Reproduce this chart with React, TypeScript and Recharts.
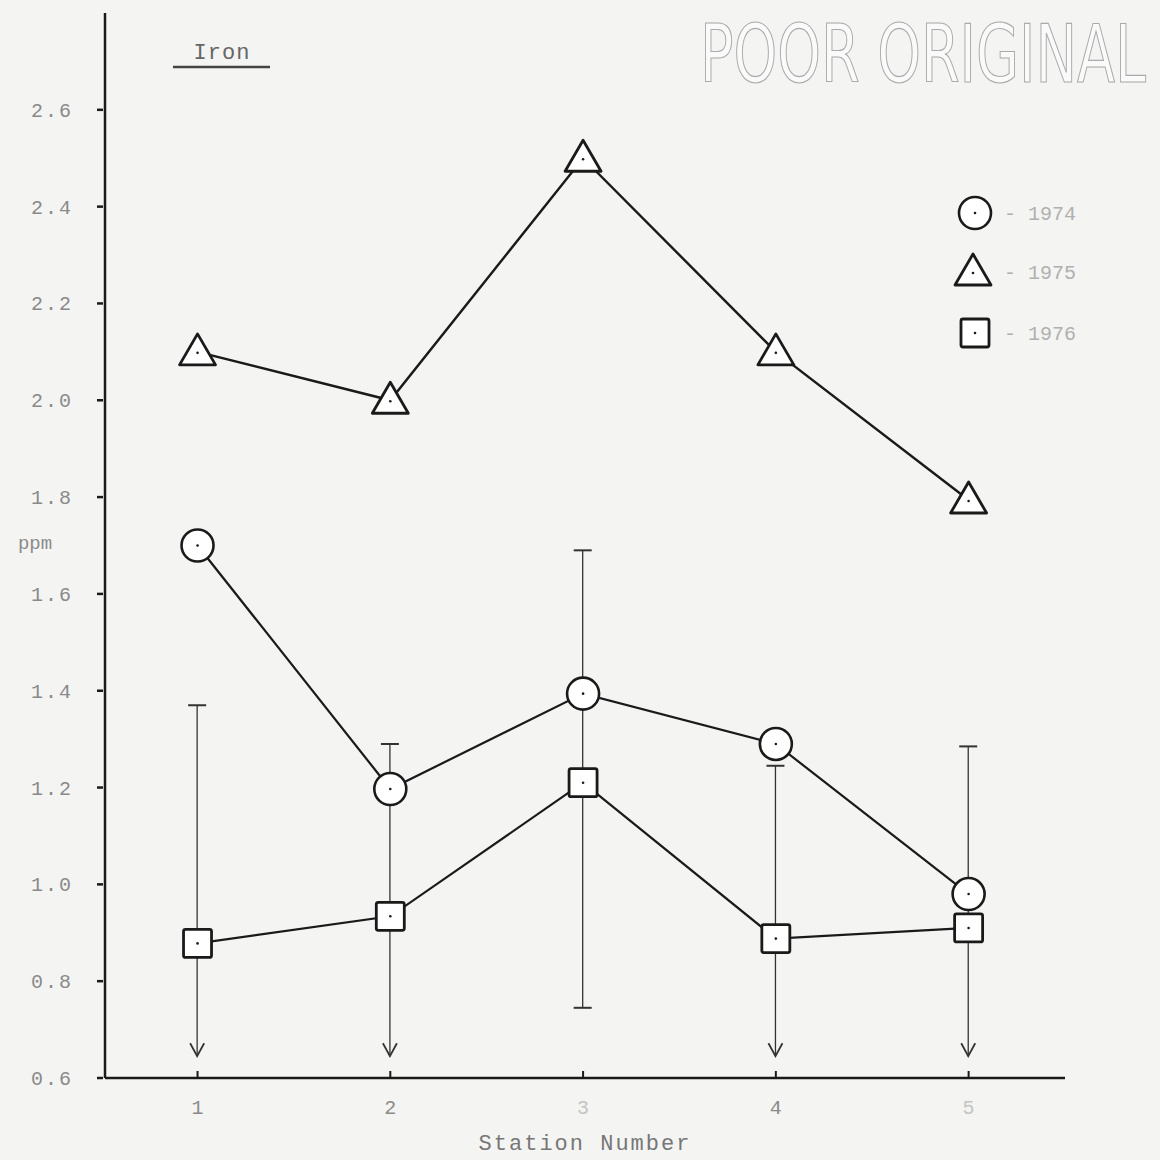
import React from 'react'
import { ComposedChart, Line, Bar, XAxis, YAxis } from 'recharts'

const stations = [1, 2, 3, 4, 5]
const iron1974 = [1.7, 1.197, 1.394, 1.29, 0.98]
const iron1975 = [2.1, 2.0, 2.5, 2.1, 1.794]
const iron1976 = [0.878, 0.934, 1.21, 0.888, 0.91]
const rangeHigh = [1.37, 1.29, 1.69, 1.245, 1.285]
const rangeLow = [0.645, 0.645, 0.745, 0.645, 0.645]
const belowLimit = [true, true, false, true, true]
const yTicks = [0.6, 0.8, 1.0, 1.2, 1.4, 1.6, 1.8, 2.0, 2.2, 2.4, 2.6]
const yLabels = ['0.6', '0.8', '1.0', '1.2', '1.4', '1.6', '1.8', '2.0', '2.2', '2.4', '2.6']
const legendYears = ['1974', '1975', '1976']

const data = stations.map((s, i) => ({
  station: s,
  y1974: iron1974[i],
  y1975: iron1975[i],
  y1976: iron1976[i],
  range: [rangeLow[i], rangeHigh[i]],
  below: belowLimit[i],
}))

const mono = '"Liberation Mono", "DejaVu Sans Mono", monospace'
const ink = '#1a1a1a'
const faded = '#8a8a8a'

function Circle(p: any) {
  const { cx, cy } = p
  return (
    <g key={`c${cx}`}>
      <circle cx={cx} cy={cy} r={16} fill="#fff" stroke={ink} strokeWidth={2.6} />
      <circle cx={cx} cy={cy} r={1.3} fill={ink} />
    </g>
  )
}

function Triangle(p: any) {
  const { cx, cy } = p
  return (
    <g key={`t${cx}`}>
      <path
        d={`M${cx},${cy - 18} L${cx + 18},${cy + 13} L${cx - 18},${cy + 13} Z`}
        fill="#fff"
        stroke={ink}
        strokeWidth={2.8}
        strokeLinejoin="round"
      />
      <circle cx={cx} cy={cy + 1} r={1.3} fill={ink} />
    </g>
  )
}

function Square(p: any) {
  const { cx, cy } = p
  return (
    <g key={`s${cx}`}>
      <rect x={cx - 14} y={cy - 14} width={28} height={28} rx={2} fill="#fff" stroke={ink} strokeWidth={2.8} />
      <circle cx={cx} cy={cy} r={1.3} fill={ink} />
    </g>
  )
}

function RangeShape(p: any) {
  const { x, y, width, height, payload } = p
  const cx = x + width / 2
  const bottom = y + height
  return (
    <g>
      <line x1={cx} y1={y} x2={cx} y2={bottom} stroke="#333" strokeWidth={1.3} />
      <line x1={cx - 9} y1={y} x2={cx + 9} y2={y} stroke="#333" strokeWidth={2} />
      {payload.below ? (
        <path d={`M${cx - 7},${bottom - 13} L${cx},${bottom} L${cx + 7},${bottom - 13}`} fill="none" stroke="#333" strokeWidth={1.8} />
      ) : (
        <line x1={cx - 9} y1={bottom} x2={cx + 9} y2={bottom} stroke="#333" strokeWidth={2} />
      )}
    </g>
  )
}

function XTick(p: any) {
  const { x, y, payload } = p
  const dim = payload.value === 3 || payload.value === 5
  return (
    <g>
      <line x1={x} y1={y - 1} x2={x} y2={y - 9} stroke={ink} strokeWidth={2} />
      <text x={x} y={y + 34} textAnchor="middle" fontFamily={mono} fontSize={20} fill={dim ? '#c4c4c4' : faded}>
        {payload.value}
      </text>
    </g>
  )
}

function YTick(p: any) {
  const { x, y, index } = p
  return (
    <g>
      <line x1={x - 6} y1={y} x2={x} y2={y} stroke={ink} strokeWidth={2.5} />
      <text x={x - 30} y={y + 7} textAnchor="end" fontFamily={mono} fontSize={20} letterSpacing={2} fill={faded}>
        {yLabels[index]}
      </text>
    </g>
  )
}

export default function App() {
  return (
    <div style={{ position: 'absolute', left: 0, top: 0, width: 1160, height: 1160, background: '#f4f4f2' }}>
      <ComposedChart width={1160} height={1160} data={data} margin={{ top: 13, right: 95, bottom: 0, left: 0 }}>
        <XAxis
          dataKey="station"
          type="number"
          domain={[0.52, 5.5]}
          ticks={stations}
          height={82}
          axisLine={{ stroke: ink, strokeWidth: 2.5 }}
          tickLine={false}
          tickSize={0}
          tick={<XTick />}
          label={{ value: 'Station Number', position: 'insideBottom', offset: 10, fontFamily: mono, fontSize: 22, letterSpacing: 2, fill: '#777' }}
        />
        <YAxis
          type="number"
          domain={[0.6, 2.8]}
          ticks={yTicks}
          width={105}
          axisLine={{ stroke: ink, strokeWidth: 2.5 }}
          tickLine={false}
          tickSize={0}
          tick={<YTick />}
          allowDataOverflow
        />
        <Bar dataKey="range" barSize={20} shape={<RangeShape />} isAnimationActive={false} />
        <Line dataKey="y1974" stroke={ink} strokeWidth={2.2} dot={Circle} isAnimationActive={false} />
        <Line dataKey="y1975" stroke={ink} strokeWidth={2.4} dot={Triangle} isAnimationActive={false} />
        <Line dataKey="y1976" stroke={ink} strokeWidth={2.2} dot={Square} isAnimationActive={false} />
      </ComposedChart>
      <svg width={1160} height={1160} style={{ position: 'absolute', left: 0, top: 0, pointerEvents: 'none' }}>
        <text x={222} y={59} textAnchor="middle" fontFamily={mono} fontSize={22} letterSpacing={1} fill="#666">Iron</text>
        <line x1={173} y1={67} x2={270} y2={67} stroke="#444" strokeWidth={2.5} />
        <text x={35} y={549} textAnchor="middle" fontFamily={mono} fontSize={19} fill={faded}>ppm</text>
        <text
          x={700}
          y={82}
          textLength={446}
          lengthAdjust="spacingAndGlyphs"
          fontFamily='"Liberation Sans Narrow", "DejaVu Sans Condensed", sans-serif'
          fontSize={80}
          fill="#fafafa"
          stroke="#aaa"
          strokeWidth={1.2}
        >
          POOR ORIGINAL
        </text>
        {legendYears.map((yr, i) => {
          const cy = [213, 272, 333][i]
          return (
            <g key={yr}>
              {i === 0 && <Circle cx={975} cy={cy} />}
              {i === 1 && <Triangle cx={973} cy={cy} />}
              {i === 2 && <Square cx={975} cy={cy} />}
              <text x={1004} y={cy + 7} fontFamily={mono} fontSize={20} fill="#b0b0b0">
                - {yr}
              </text>
            </g>
          )
        })}
      </svg>
    </div>
  )
}
